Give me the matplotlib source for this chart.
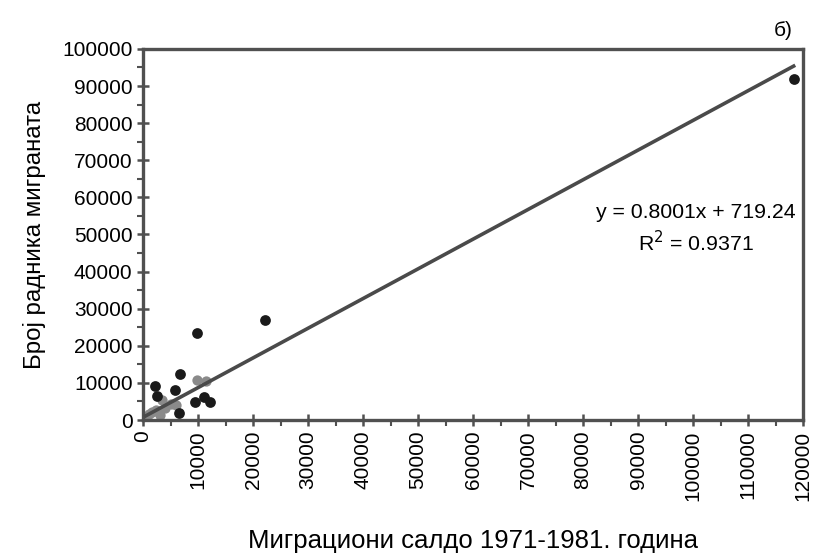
import numpy as np
import matplotlib
matplotlib.use("Agg")
import matplotlib.pyplot as plt
from matplotlib.ticker import MultipleLocator

plt.rcParams['font.family'] = ['Liberation Sans', 'DejaVu Sans']

# Migration balance 1971-1981 vs. number of migrant workers, by municipality
saldo = [22200, 9800, 6800, 2200, 5800, 2600, 9400, 11000, 12200, 6500,
         118300]
radnici = [27000, 23400, 12500, 9100, 8200, 6400, 4800, 6100, 4800, 1800,
           92000]

# smaller municipalities lying close to the trend line
saldo_small = [9800, 11400, 500, 1000, 1600, 2400, 3000, 4000, 5000, 6000, 3500]
radnici_small = [10700, 10500, 800, 1500, 2100, 2600, 1300, 3100, 4400, 4000, 5300]

slope, intercept, r2 = 0.8001, 719.24, 0.9371

fig = plt.figure(figsize=(8.13, 5.56), dpi=100)
ax = fig.add_axes([0.1759, 0.2446, 0.8118, 0.6674])

axis_col = '#505050'
ax.scatter(saldo_small, radnici_small, s=55, color='#8a8a8a', zorder=2,
           linewidths=0)
xs = np.array([min(saldo_small), max(saldo)])
ax.plot(xs, slope * xs + intercept, color='#4a4a4a', lw=2.6, zorder=3)
ax.scatter(saldo, radnici, s=60, color='#1a1a1a', zorder=4, linewidths=0)

ax.set_xlim(0, 120000)
ax.set_ylim(0, 100000)
ax.xaxis.set_major_locator(MultipleLocator(10000))
ax.yaxis.set_major_locator(MultipleLocator(10000))
ax.xaxis.set_minor_locator(MultipleLocator(5000))
ax.yaxis.set_minor_locator(MultipleLocator(5000))

for s in ax.spines.values():
    s.set_color(axis_col)
    s.set_linewidth(2.4)

ax.tick_params(axis='both', which='major', direction='inout', length=9,
               width=1.8, color=axis_col, labelsize=15, pad=3)
ax.tick_params(axis='both', which='minor', direction='out', length=4,
               width=1.5, color=axis_col)
plt.setp(ax.get_xticklabels(), rotation=90)

ax.set_xlabel('Миграциони салдо 1971-1981. година', fontsize=18.5,
              labelpad=20)
ax.set_ylabel('Број радника миграната', fontsize=17.3, labelpad=12)

ax.text(0.838, 0.56, f'y = {slope}x + {intercept}', transform=ax.transAxes,
        ha='center', va='center', fontsize=15.3)
ax.text(0.838, 0.477, f'R$^2$ = {r2}', transform=ax.transAxes,
        ha='center', va='center', fontsize=15.3)

fig.text(0.975, 0.945, 'б)', ha='right', va='center', fontsize=15)

fig.savefig('out.png', dpi=100)
